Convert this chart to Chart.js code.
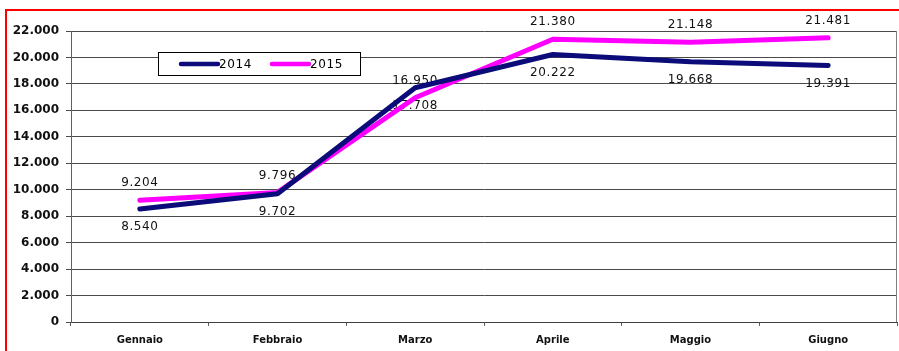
<!DOCTYPE html>
<html>
<head>
<meta charset="utf-8">
<script src="https://cdn.jsdelivr.net/npm/chart.js@4.4.1/dist/chart.umd.min.js"></script>
<style>
  html, body { margin: 0; padding: 0; background: #fff; overflow: hidden; }
  #wrap { position: relative; width: 899px; height: 351px; }
  #frame { position: absolute; left: 5px; top: 9px; width: 1000px; height: 500px; border: 2px solid #ff0000; }
  #mychart { position: absolute; left: 0; top: 0; }
</style>
</head>
<body>
<div id="wrap">
  <div id="frame"></div>
  <canvas id="mychart" width="899" height="351"></canvas>
</div>
<script>
const mesi = ['Gennaio', 'Febbraio', 'Marzo', 'Aprile', 'Maggio', 'Giugno']
const anni = ['2014', '2015']
const valori2014 = [8540, 9702, 17708, 20222, 19668, 19391]
const valori2015 = [9204, 9796, 16950, 21380, 21148, 21481]
const coloriLinee = ['#0b0b7a', '#ff00ff']
const yMin = 0
const yMax = 22000
const yStep = 2000

// numeri con il punto come separatore delle migliaia
function formatta(n) {
  return String(n).replace(/\B(?=(\d{3})+(?!\d))/g, '.')
}

// etichette dei valori: 2014 sotto la linea, 2015 sopra
const etichettePlugin = {
  id: 'etichette',
  beforeDatasetsDraw(chart) {
    const ctx = chart.ctx
    ctx.save()
    ctx.font = '12px "DejaVu Sans"'
    ctx.letterSpacing = '0.6px'
    ctx.fillStyle = '#111'
    ctx.textAlign = 'center'
    ctx.textBaseline = 'middle'
    chart.data.datasets.forEach(function(ds, i) {
      const meta = chart.getDatasetMeta(i)
      const spost = i == 0 ? 18 : -17
      meta.data.forEach(function(pt, j) {
        ctx.fillText(formatta(ds.data[j]), pt.x, pt.y + spost)
      })
    })
    ctx.restore()
  }
}

// bordo destro dell'area e legenda nel riquadro
const cornicePlugin = {
  id: 'cornice',
  afterDraw(chart) {
    const ctx = chart.ctx
    const area = chart.chartArea
    ctx.save()
    ctx.strokeStyle = '#808080'
    ctx.lineWidth = 1
    ctx.beginPath()
    ctx.moveTo(area.right - 0.5, area.top)
    ctx.lineTo(area.right - 0.5, area.bottom)
    ctx.stroke()

    // legenda
    const lx = 158, ly = 52, lw = 202, lh = 23
    ctx.fillStyle = '#fff'
    ctx.fillRect(lx, ly, lw, lh)
    ctx.strokeStyle = '#000'
    ctx.strokeRect(lx + 0.5, ly + 0.5, lw, lh)
    ctx.font = '12px "DejaVu Sans"'
    ctx.letterSpacing = '0.6px'
    ctx.textBaseline = 'middle'
    ctx.lineCap = 'round'
    chart.data.datasets.forEach(function(ds, i) {
      const x0 = lx + 23 + i * 91
      ctx.strokeStyle = ds.borderColor
      ctx.lineWidth = 4.5
      ctx.beginPath()
      ctx.moveTo(x0, ly + 12)
      ctx.lineTo(x0 + 37, ly + 12)
      ctx.stroke()
      ctx.fillStyle = '#000'
      ctx.fillText(ds.label, x0 + 38, ly + 12.5)
    })
    ctx.restore()
  }
}

const canvasGrafico = document.getElementById('mychart')
new Chart(canvasGrafico, {
  type: 'line',
  data: {
    labels: mesi,
    datasets: [{
      label: anni[0],
      data: valori2014,
      borderColor: coloriLinee[0],
      backgroundColor: coloriLinee[0],
      borderWidth: 5,
      pointRadius: 0,
      tension: 0,
      borderCapStyle: 'round',
      borderJoinStyle: 'round'
    }, {
      label: anni[1],
      data: valori2015,
      borderColor: coloriLinee[1],
      backgroundColor: coloriLinee[1],
      borderWidth: 5,
      pointRadius: 0,
      tension: 0,
      borderCapStyle: 'round',
      borderJoinStyle: 'round'
    }]
  },
  options: {
    responsive: false,
    animation: false,
    devicePixelRatio: 1,
    layout: { padding: { top: 31, right: 2, bottom: 0, left: 0 } },
    plugins: {
      legend: { display: false },
      tooltip: { enabled: false }
    },
    scales: {
      x: {
        offset: true,
        grid: { offset: true, drawOnChartArea: false, tickLength: 4, color: '#606060' },
        border: { color: '#404040', width: 1 },
        ticks: { color: '#111', padding: 8, font: { family: 'DejaVu Sans', weight: 'bold', size: 10 } },
        afterFit: function(scale) { scale.height = 29 }
      },
      y: {
        min: yMin,
        max: yMax,
        grid: { color: '#4a4a4a', tickLength: 5 },
        border: { color: '#606060', width: 1 },
        ticks: {
          stepSize: yStep,
          color: '#111',
          padding: 7,
          font: { family: 'DejaVu Sans', weight: 'bold', size: 12 },
          callback: function(v) { return formatta(v) }
        },
        afterFit: function(scale) { scale.width = 71 }
      }
    }
  },
  plugins: [etichettePlugin, cornicePlugin]
})
</script>
</body>
</html>
